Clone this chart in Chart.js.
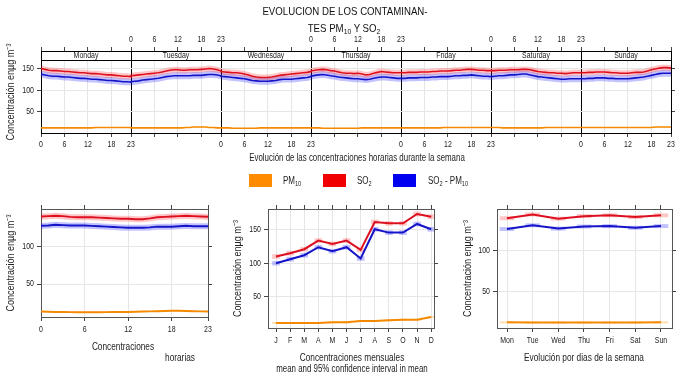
<!DOCTYPE html>
<html><head><meta charset="utf-8">
<script src="https://cdn.jsdelivr.net/npm/chart.js@4.4.1/dist/chart.umd.min.js"></script>
<style>
html,body{margin:0;padding:0;background:#fff;}
#wrap{position:relative;width:691px;height:388px;overflow:hidden;font-family:"Liberation Sans",Arial,sans-serif;color:#222;}
canvas{position:absolute;left:0;top:0;}
.t{position:absolute;white-space:nowrap;transform:translate(-50%,-50%) scaleX(0.79);line-height:1;}
.l{position:absolute;white-space:nowrap;transform-origin:0 50%;transform:translateY(-50%) scaleX(0.8);line-height:1;font-size:10px;}
.ttl{font-size:10.5px;color:#111;transform:translate(-50%,-50%) scaleX(0.92);}
sub{font-size:70%;vertical-align:-0.25em;line-height:0;}
.sw{position:absolute;width:23px;height:13px;}
</style></head>
<body><div id="wrap">
<canvas id="cWeek" width="691" height="388" style="width:691px;height:388px"></canvas>
<canvas id="cHour" width="691" height="388" style="width:691px;height:388px"></canvas>
<canvas id="cMonth" width="691" height="388" style="width:691px;height:388px"></canvas>
<canvas id="cWday" width="691" height="388" style="width:691px;height:388px"></canvas>

<div class="t ttl" style="left:345px;top:11px">EVOLUCION DE LOS CONTAMINAN-</div>
<div class="t ttl" style="left:344px;top:28px">TES PM<sub>10</sub> Y SO<sub>2</sub></div>
<div class="t" style="left:357px;top:158px;font-size:10px">Evolución de las concentraciones horarias durante la semana</div>

<div class="sw" style="left:249px;top:174px;background:#FF8C00"></div>
<div class="l" style="left:283px;top:181px">PM<sub>10</sub></div>
<div class="sw" style="left:323px;top:174px;background:#F00000"></div>
<div class="l" style="left:357px;top:181px">SO<sub>2</sub></div>
<div class="sw" style="left:393px;top:174px;background:#0000F0"></div>
<div class="l" style="left:428px;top:181px">SO<sub>2</sub> - PM<sub>10</sub></div>

<div class="t" style="left:123px;top:346px;font-size:10.5px">Concentraciones</div>
<div class="t" style="left:180px;top:357px;font-size:10.5px">horarias</div>
<div class="t" style="left:352px;top:357px;font-size:10.5px">Concentraciones mensuales</div>
<div class="t" style="left:352px;top:369px;font-size:10px">mean and 95% confidence interval in mean</div>
<div class="t" style="left:584px;top:357px;font-size:10.5px">Evolución por dias de la semana</div>
</div>
<script>
// ---------------- DATA ----------------
const dayNames = ['Monday','Tuesday','Wednesday','Thursday','Friday','Saturday','Sunday'];
const hourTickLabels = [0, 6, 12, 18, 23];

// hourly means for each weekday (Mon..Sun), 24 values each
const so2Week = [
 [151,149,147,146,146,145,144,144,143,142,141,141,140,139,139,138,137,136,136,135,134,133,133,132],
 [134,135,136,137,138,139,140,141,143,145,147,148,148,147,147,148,148,148,149,150,151,150,148,145],
 [144,143,142,141,141,140,138,136,133,131,130,130,130,131,133,135,136,137,138,139,140,141,142,144],
 [145,147,148,149,148,146,145,143,141,140,140,139,140,138,136,137,140,142,144,143,142,141,141,141],
 [141,141,142,142,142,143,143,143,144,144,145,145,145,146,147,147,148,149,149,148,147,147,146,146],
 [146,146,147,147,147,148,148,148,149,149,148,146,144,143,142,141,141,140,140,139,140,141,141,141],
 [141,141,142,142,143,143,143,142,141,141,140,140,140,141,142,142,143,145,148,150,152,153,153,152]
];
const diffWeek = [
 [138,136,134,133,133,132,131,131,130,129,128,128,127,126,126,125,124,123,123,122,121,120,120,119],
 [120,121,122,124,125,126,127,128,130,132,133,134,134,134,134,134,135,135,135,136,137,137,136,134],
 [133,132,131,130,129,128,127,125,123,122,121,121,121,122,123,125,126,126,126,127,128,129,130,132],
 [133,135,136,137,136,134,133,131,130,129,128,127,127,126,125,126,128,130,131,131,130,129,128,128],
 [128,128,129,129,129,130,130,130,131,131,132,132,132,133,134,134,135,135,136,135,134,133,133,132],
 [132,133,134,134,135,136,136,137,138,138,136,134,132,131,130,129,128,127,126,126,127,127,127,127],
 [127,127,128,128,129,129,129,128,128,127,127,127,127,128,129,130,131,133,135,137,139,140,140,140]
];
const pm10Week = [
 [12,12,12,12,12,12,12,12,12,12,12,12,12,12,13,13,13,13,13,13,13,13,13,13],
 [12,12,12,12,12,12,12,12,12,12,12,12,12,12,13,13,14,14,14,14,13,13,12,12],
 [12,12,12,11,11,11,11,11,11,11,12,12,12,12,12,12,12,12,12,12,12,12,12,12],
 [12,12,12,11,11,11,11,11,11,11,11,11,11,12,12,12,12,12,12,12,12,12,12,12],
 [12,12,12,12,12,12,12,12,12,12,12,13,13,13,13,13,13,13,13,13,13,13,13,13],
 [13,13,13,12,12,12,12,12,12,12,12,12,12,12,13,13,13,13,13,13,13,13,13,13],
 [13,13,13,13,13,13,13,13,13,13,13,13,13,13,13,13,13,13,13,14,14,14,14,14]
];
const so2WeekCI  = [7, 7, 7, 7, 7, 7, 7];
const diffWeekCI = [8, 8, 8, 8, 8, 8, 8];
const pm10WeekCI = [0.8, 0.8, 0.8, 0.8, 0.8, 0.8, 0.8];

// hour of day
const hours = [0,1,2,3,4,5,6,7,8,9,10,11,12,13,14,15,16,17,18,19,20,21,22,23];
const so2Hour  = [140,140.5,141,140.5,139.5,139,139,139,138.5,138,137.5,137,137,136.5,136.5,137.5,139,139.5,140,140.5,141,140.5,140,139.5];
const diffHour = [127.5,128,129,128.5,128,128,128,127.5,127,126.5,126,125.5,125,125,125,125.5,126.5,126.5,126.5,127,127.5,127,127,127];
const pm10Hour = [13.3,13,12.8,12.6,12.5,12.4,12.4,12.4,12.4,12.5,12.6,12.7,12.8,13,13.2,13.5,13.8,14,14.2,14.2,14,13.8,13.5,13.3];
const so2HourCI = 4, diffHourCI = 4, pm10HourCI = 0.7;

// month
const monthLabels = ['J','F','M','A','M','J','J','A','S','O','N','D'];
const so2Month  = [110,115,121,134,129,134,120,162,160,160,174,170];
const diffMonth = [100,106,112,124,118,124,107,151,146,146,159,151];
const pm10Month = [10,10,10,10,11,11,13,13,14,15,15,19];
const so2MonthCI  = [3,3,3,3,3,3,3,3,3,3,3,3];
const diffMonthCI = [3,3,3,3,3,3,3,3,3,3,3,3];
const pm10MonthCI = [1,1,1,1,1,1,1,1,1,1,1,1];

// weekday
const weekdayLabels = ['Mon','Tue','Wed','Thu','Fri','Sat','Sun'];
const so2Wd  = [138.5,143,138,141,142,140,142];
const diffWd = [125.5,130,126,128.5,129,127,129];
const pm10Wd = [13.2,13,12.9,12.9,12.9,13.1,13.2];
const so2WdCI  = [2,2,2,2,2,2,2];
const diffWdCI = [2,2,2,2,2,2,2];
const pm10WdCI = [0.8,0.8,0.8,0.8,0.8,0.8,0.8];

const yTitle = 'Concentración enµg m⁻³';

// ---------------- STYLE ----------------
const FONT = '"Liberation Sans",Arial,sans-serif';
Chart.defaults.font.family = FONT;
Chart.defaults.color = '#222';

// condensed look for canvas text (the reference uses a narrow face)
const CONDENSE = 0.82;
const _fillText = CanvasRenderingContext2D.prototype.fillText;
CanvasRenderingContext2D.prototype.fillText = function(t, x, y, mw){
  const w = this.measureText(t).width * CONDENSE;
  const m = (mw !== undefined && mw !== null && isFinite(mw)) ? Math.min(mw, w) : w;
  if (!(m > 0)) return _fillText.call(this, t, x, y);
  return _fillText.call(this, t, x, y, m);
};

const C = {
  pm10: {line:'#F58A00', band:'rgba(255,140,0,0.30)'},
  so2:  {line:'#DD1020', band:'rgba(255,0,0,0.22)'},
  diff: {line:'#1414C8', band:'rgba(0,0,255,0.24)'}
};
const GRID = '#e6e6e6', TICK = '#444', FRAME = '#555';

function fixTicks(vals){ return s => { s.ticks = vals.map(v => ({value: v})); }; }

function lineSeries(pts, mean, ci, col, width){
  const hw = i => Array.isArray(ci) ? ci[i] : ci;
  return [
    {data: pts.map((x,i)=>({x, y: mean[i]-hw(i)})), borderWidth:0, pointRadius:0, fill:false, order:10},
    {data: pts.map((x,i)=>({x, y: mean[i]+hw(i)})), borderWidth:0, pointRadius:0, fill:'-1', backgroundColor: col.band, order:10},
    {data: pts.map((x,i)=>({x, y: mean[i]})), borderColor: col.line, borderWidth: width, pointRadius:0, fill:false, order:1}
  ];
}
function barSeries(pts, mean, ci, col, thick, width){
  return [
    {type:'bar', data: pts.map((x,i)=>({x, y:[mean[i]-ci[i], mean[i]+ci[i]]})), backgroundColor: col.band, barThickness: thick, grouped:false, borderWidth:0, order:10},
    {type:'line', data: pts.map((x,i)=>({x, y: mean[i]})), borderColor: col.line, borderWidth: width, pointRadius:0, fill:false, order:1}
  ];
}

function yAxes(min, max, ticks, leftW, rightW, frame){
  return {
    y: {type:'linear', position:'left', min, max, afterBuildTicks: fixTicks(ticks), afterFit: s => { s.width = leftW; },
        ticks:{font:{size:8.5}, padding:3, color:'#222'},
        grid:{color:GRID, tickColor:TICK, tickLength:4},
        border:{color:frame},
        title:{display:true, text:yTitle, font:{size:11}, color:'#222', padding:{top:4,bottom:0}}},
    y2: {type:'linear', position:'right', min, max, afterBuildTicks: fixTicks(ticks), afterFit: s => { s.width = rightW; },
        ticks:{callback:()=> '', font:{size:8}},
        grid:{drawOnChartArea:false, tickColor:TICK, tickLength:4},
        border:{color:frame}}
  };
}
function xAxes(min, max, ticks, labelFn, gridColor, topH, frame, topLabelFn){
  return {
    x: {type:'linear', position:'bottom', min, max, offset:false, afterBuildTicks: fixTicks(ticks), afterFit: s => { s.height = 20; },
        ticks:{autoSkip:false, maxRotation:0, minRotation:0, callback: labelFn, font:{size:8.5}, padding:4, color:'#222'},
        grid:{color: gridColor, tickColor:TICK, tickLength:4, offset:false},
        border:{color:frame}},
    x2: {type:'linear', position:'top', min, max, offset:false, afterBuildTicks: fixTicks(ticks), afterFit: s => { s.height = topH; },
        ticks:{autoSkip:false, maxRotation:0, minRotation:0, callback: topLabelFn || (()=> ''), font:{size:8.5}, padding:2, color:'#222'},
        grid:{drawOnChartArea:false, tickColor:TICK, tickLength:4, offset:false},
        border:{color:frame}}
  };
}
function baseOptions(padding, scales){
  return {responsive:false, animation:false, events:[], layout:{padding},
    plugins:{legend:{display:false}, tooltip:{enabled:false}},
    elements:{line:{tension:0}, point:{radius:0}}, scales};
}

// ---------------- WEEK (top) ----------------
const weekX = [];
for (let d = 0; d < 7; d++) for (let h = 0; h < 24; h++) weekX.push(d*23 + h);
const flat = a => a.flat();
const ciFlat = a => { const r=[]; a.forEach(v=>{ for(let h=0;h<24;h++) r.push(v); }); return r; };
const weekTickVals = [];
for (let d = 0; d < 7; d++) for (const h of hourTickLabels.slice(0,4)) weekTickVals.push(d*23 + h);
weekTickVals.push(7*23);
function weekLabel(v, bottom){
  if (v % 23 === 0){
    const k = v/23;
    if (k === 0) return bottom ? '0' : '';
    if (k === 7) return bottom ? '23' : '';
    if (bottom) return k % 2 === 1 ? '23' : '0';
    return k % 2 === 1 ? '0' : '23';
  }
  const d = Math.floor(v/23), h = v - d*23;
  const show = bottom ? d % 2 === 0 : d % 2 === 1;
  return show ? String(h) : '';
}
const stripPlugin = {
  id:'strip',
  afterDraw(chart){
    const {ctx, chartArea:a, scales:{x}} = chart;
    const h = 9;
    ctx.save();
    ctx.fillStyle = '#fff';
    ctx.fillRect(a.left, a.top, a.right - a.left, h);
    ctx.strokeStyle = '#000'; ctx.lineWidth = 1;
    ctx.beginPath();
    ctx.moveTo(a.left, Math.round(a.top)+0.5); ctx.lineTo(a.right, Math.round(a.top)+0.5);
    ctx.moveTo(a.left, Math.round(a.top+h)+0.5); ctx.lineTo(a.right, Math.round(a.top+h)+0.5);
    for (let d = 0; d <= 7; d++){
      const px = Math.round(x.getPixelForValue(d*23)) + 0.5;
      ctx.moveTo(px, a.top); ctx.lineTo(px, a.top + h);
    }
    ctx.stroke();
    ctx.fillStyle = '#222';
    ctx.font = '8.5px ' + FONT;
    ctx.textAlign = 'center'; ctx.textBaseline = 'middle';
    dayNames.forEach((n, d) => ctx.fillText(n, x.getPixelForValue(d*23 + 11.5), a.top + h/2 + 0.5));
    ctx.restore();
  }
};
{
  const scales = Object.assign(
    xAxes(0, 161, weekTickVals, v => weekLabel(v, true),
          c => (c.tick && c.tick.value % 23 === 0) ? '#000' : GRID, 20, '#000', v => weekLabel(v, false)),
    yAxes(0, 192, [50,100,150], 41, 20, '#000'));
  scales.x.ticks.padding = 3;
  new Chart(document.getElementById('cWeek'), {
    type:'line',
    data:{datasets:[
      ...lineSeries(weekX, flat(pm10Week), ciFlat(pm10WeekCI), C.pm10, 1.6),
      ...lineSeries(weekX, flat(so2Week),  ciFlat(so2WeekCI),  C.so2, 1.6),
      ...lineSeries(weekX, flat(diffWeek), ciFlat(diffWeekCI), C.diff, 1.6)
    ]},
    options: baseOptions({left:0, right:0, top:31, bottom:235}, scales),
    plugins:[stripPlugin]
  });
}

// ---------------- HOUR ----------------
{
  const scales = Object.assign(
    xAxes(0, 23, hourTickLabels, v => String(v), GRID, 5, FRAME),
    yAxes(6, 150, [50,100], 41, 6, FRAME));
  new Chart(document.getElementById('cHour'), {
    type:'line',
    data:{datasets:[
      ...lineSeries(hours, pm10Hour, pm10HourCI, C.pm10, 2),
      ...lineSeries(hours, so2Hour,  so2HourCI,  C.so2, 2),
      ...lineSeries(hours, diffHour, diffHourCI, C.diff, 2)
    ]},
    options: baseOptions({left:0, right:477, top:204, bottom:51}, scales)
  });
}

// ---------------- MONTH ----------------
{
  const mx = monthLabels.map((_, i) => i + 1);
  const scales = Object.assign(
    xAxes(0.43, 12.2, mx, v => monthLabels[v-1] || '', GRID, 5, FRAME),
    yAxes(2.5, 181.5, [50,100,150], 41, 6, FRAME));
  new Chart(document.getElementById('cMonth'), {
    type:'line',
    data:{datasets:[
      ...barSeries(mx, pm10Month, pm10MonthCI, C.pm10, 7, 2),
      ...barSeries(mx, so2Month,  so2MonthCI,  C.so2, 7, 2),
      ...barSeries(mx, diffMonth, diffMonthCI, C.diff, 7, 2)
    ]},
    options: baseOptions({left:227, right:251, top:204, bottom:40}, scales)
  });
}

// ---------------- WEEKDAY ----------------
{
  const wx = weekdayLabels.map((_, i) => i + 1);
  const scales = Object.assign(
    xAxes(0.61, 7.43, wx, v => weekdayLabels[v-1] || '', GRID, 5, FRAME),
    yAxes(6.4, 149.6, [50,100], 40, 6, FRAME));
  new Chart(document.getElementById('cWday'), {
    type:'line',
    data:{datasets:[
      ...barSeries(wx, pm10Wd, pm10WdCI, C.pm10, 14, 2),
      ...barSeries(wx, so2Wd,  so2WdCI,  C.so2, 14, 2),
      ...barSeries(wx, diffWd, diffWdCI, C.diff, 14, 2)
    ]},
    options: baseOptions({left:457, right:13, top:204, bottom:40}, scales)
  });
}
</script>
</body></html>
